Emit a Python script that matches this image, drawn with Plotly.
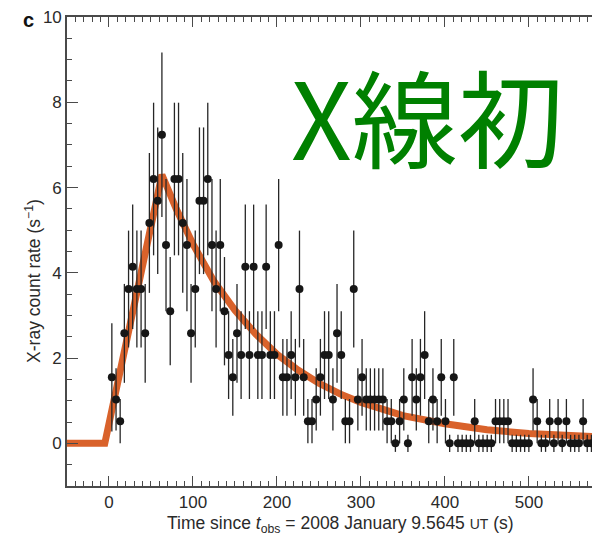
import numpy as np
import plotly.graph_objects as go

# ---- data ----
time_s = [3.4, 8.4, 13.3, 18.3, 23.3, 28.2, 33.2, 38.2, 43.1, 48.1,
          53.1, 58.0, 63.0, 67.9, 72.9, 77.9, 82.8, 87.8, 92.8, 97.7,
          102.7, 107.7, 112.6, 117.6, 122.6, 127.5, 132.5, 137.5, 142.4, 147.4,
          152.4, 157.3, 162.3, 167.2, 172.2, 177.2, 182.1, 187.1, 192.1, 197.0,
          202.0, 207.0, 211.9, 216.9, 221.9, 226.8, 231.8, 236.8, 241.7, 246.7,
          251.7, 256.6, 261.6, 266.6, 271.5, 276.5, 281.4, 286.4, 291.4, 296.3,
          301.3, 306.3, 311.2, 316.2, 321.2, 326.1, 331.1, 336.1, 341.0, 346.0,
          351.0, 355.9, 360.9, 365.9, 370.8, 375.8, 380.7, 385.7, 390.7, 395.6,
          400.6, 405.6, 410.5, 415.5, 420.5, 425.4, 430.4, 435.4, 440.3, 445.3,
          450.3, 455.2, 460.2, 465.2, 470.1, 475.1, 480.0, 485.0, 490.0, 494.9,
          499.9, 504.9, 509.8, 514.8, 519.8, 524.7, 529.7, 534.7, 539.6, 544.6,
          549.6, 554.5, 559.5, 564.5, 569.4, 574.4, 579.3, 584.3]

rate = [1.55, 1.03, 0.52, 2.58, 3.62, 4.14, 3.62, 3.62, 2.58, 5.17,
        6.20, 5.69, 7.24, 4.65, 3.10, 6.20, 6.20, 5.17, 4.65, 2.58,
        3.62, 5.69, 5.69, 6.20, 4.65, 3.62, 4.65, 3.10, 2.07, 1.55,
        2.58, 2.07, 4.14, 2.07, 4.14, 2.07, 2.07, 4.14, 2.07, 2.07,
        4.65, 1.55, 1.55, 2.07, 1.55, 3.62, 1.55, 0.52, 0.52, 1.03,
        1.55, 2.07, 2.07, 1.03, 2.58, 2.07, 0.52, 0.52, 3.62, 1.03,
        1.55, 1.03, 1.03, 1.03, 1.03, 1.03, 0.52, 0.52, 0.00, 0.52,
        1.03, 0.00, 1.55, 1.03, 1.55, 2.07, 0.52, 1.03, 0.52, 1.55,
        0.52, 0.00, 1.55, 0.00, 0.00, 0.00, 0.00, 0.52, 0.00, 0.00,
        0.00, 0.00, 0.52, 0.52, 0.52, 0.52, 0.00, 0.00, 0.00, 0.00,
        0.00, 1.03, 0.52, 0.00, 0.00, 0.52, 0.00, 0.52, 0.00, 0.52,
        0.00, 0.00, 0.00, 0.52, 0.00, 0.00, 0.00, 1.03]

rate_err = [1.27, 0.73, 0.52, 1.16, 1.37, 1.46, 1.37, 1.37, 1.16, 1.64,
            1.79, 1.72, 1.93, 1.55, 1.27, 1.79, 1.79, 1.64, 1.55, 1.16,
            1.37, 1.72, 1.72, 1.79, 1.55, 1.37, 1.55, 1.27, 1.03, 0.90,
            1.16, 1.03, 1.46, 1.03, 1.46, 1.03, 1.03, 1.46, 1.03, 1.03,
            1.55, 0.90, 0.90, 1.03, 0.90, 1.37, 0.90, 0.52, 0.52, 0.73,
            0.90, 1.03, 1.03, 0.73, 1.16, 1.03, 0.52, 0.52, 1.37, 0.73,
            0.90, 0.73, 0.73, 0.73, 0.73, 0.73, 0.52, 0.52, 0.20, 0.52,
            0.73, 0.20, 0.90, 0.73, 0.90, 1.03, 0.52, 0.73, 0.52, 0.90,
            0.52, 0.20, 0.90, 0.20, 0.20, 0.20, 0.20, 0.52, 0.20, 0.20,
            0.20, 0.20, 0.52, 0.52, 0.52, 0.52, 0.20, 0.20, 0.20, 0.20,
            0.20, 0.73, 0.52, 0.20, 0.20, 0.52, 0.20, 0.52, 0.20, 0.52,
            0.20, 0.20, 0.20, 0.52, 0.20, 0.20, 0.20, 0.73]

model_t = [-50, -5, 63, 80, 100, 125, 150, 175, 200, 225, 250, 275, 300,
           350, 400, 450, 500, 550, 600]
model_v = [0, 0, 6.3, 5.50, 4.67, 3.80, 3.12, 2.56, 2.09, 1.72, 1.41, 1.16, 0.96,
           0.65, 0.46, 0.32, 0.23, 0.18, 0.14]

x_ticks = [0, 100, 200, 300, 400, 500]
y_ticks = [0, 2, 4, 6, 8, 10]

AX = "#4a4a4a"
TXT = "#2a2a2a"

fig = go.Figure()
fig.add_trace(go.Scatter(
    x=model_t, y=model_v, mode="lines",
    line=dict(color="#d9622b", width=7), hoverinfo="skip", showlegend=False))
fig.add_trace(go.Scatter(
    x=time_s, y=rate, mode="markers",
    marker=dict(color="#161616", size=8),
    error_y=dict(type="data", array=rate_err, visible=True,
                 color="#262626", thickness=1.3, width=0),
    showlegend=False))

axis_common = dict(showline=True, linecolor=AX, linewidth=1.6,
                   ticks="inside", tickcolor=AX, tickwidth=1.3,
                   showgrid=False, zeroline=False, ticklabeloverflow="allow",
                   tickfont=dict(family="Liberation Sans, Arial", size=17, color=TXT))

fig.update_xaxes(range=[-50, 584.6], tickvals=x_ticks, ticklen=10, mirror="ticks",
                 minor=dict(ticks="inside", dtick=10, tick0=0, ticklen=5,
                            tickwidth=1, tickcolor=AX),
                 **axis_common)
fig.update_yaxes(range=[-1, 10], tickvals=y_ticks, ticklen=11, mirror=False,
                 minor=dict(ticks="inside", dtick=0.5, tick0=0, ticklen=5,
                            tickwidth=1, tickcolor=AX),
                 **axis_common)

# page body adds an 8px offset, so the figure is 8px smaller and margins shifted
fig.update_layout(
    width=592, height=528,
    margin=dict(l=59, r=0, t=7, b=50),
    paper_bgcolor="white", plot_bgcolor="white",
    font=dict(family="Liberation Sans, Arial", color=TXT),
    annotations=[
        dict(text="<b>c</b>", xref="paper", yref="paper", x=-0.0713, y=0.994,
             xanchor="center", yanchor="middle", showarrow=False,
             font=dict(size=20, color="#111111")),
        dict(text="X-ray count rate (s<sup>−1</sup>)", xref="paper", yref="paper",
             x=-0.064, y=0.437, textangle=-90, xanchor="center", yanchor="middle",
             showarrow=False, font=dict(size=17.5, color=TXT)),
        dict(text="Time since <i>t</i><sub>obs</sub> = 2008 January 9.5645 "
                  "<span style='font-size:14px'>UT</span> (s)",
             xref="paper", yref="paper", x=0.514, y=-0.083,
             xanchor="center", yanchor="middle", showarrow=False,
             font=dict(size=17.5, color=TXT)),
        dict(text="600", xref="paper", yref="paper", x=1.0244, y=-0.022,
             xanchor="center", yanchor="top", showarrow=False,
             font=dict(size=17, color=TXT)),
        dict(text="X線初", xref="paper", yref="paper", x=0.6764, y=0.793,
             xanchor="center", yanchor="middle", showarrow=False,
             font=dict(family="Noto Sans CJK JP", size=106, color="#008000")),
    ],
)

fig.write_html("out.html")
